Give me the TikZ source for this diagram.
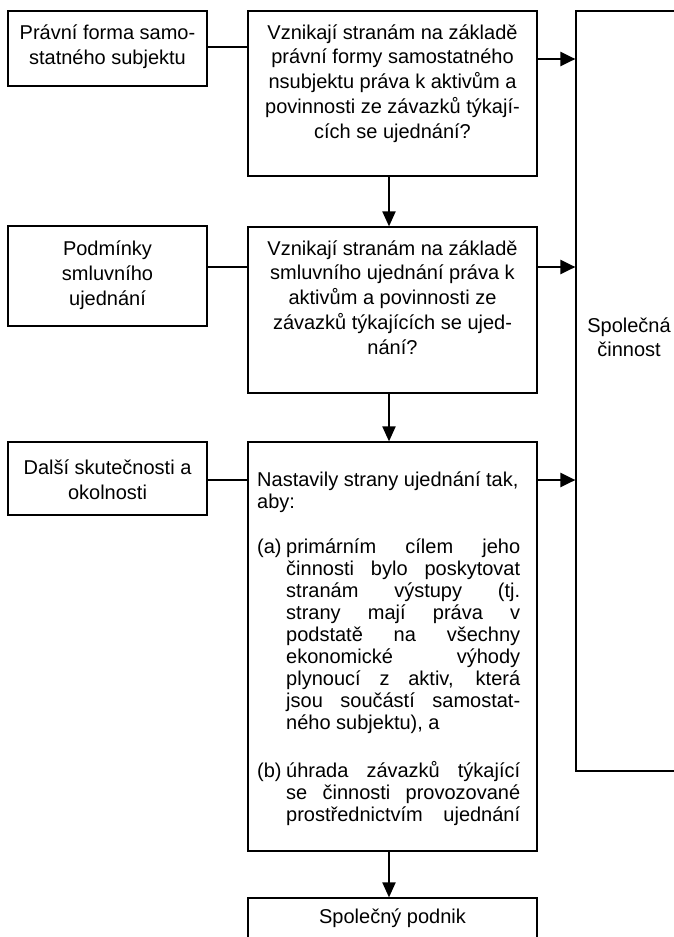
\documentclass[tikz,border=0pt]{standalone}
\usepackage{fontspec}
\setmainfont{Liberation Sans}
\usetikzlibrary{arrows.meta}
\begin{document}
\begin{tikzpicture}[x=1pt,y=-1pt,
  box/.style={draw=black, line width=1.2pt, rectangle, inner sep=0pt},
  txt/.style={inner sep=0pt, anchor=base},
  link/.style={draw=black, line width=1.2pt},
  harr/.style={draw=black, line width=2.4pt, -{Triangle[length=15pt,width=14pt]}},
  varr/.style={draw=black, line width=2pt, -{Triangle[length=15pt,width=13pt]}},
  bodyfont/.style={font=\fontsize{20}{25}\selectfont}
]
\useasboundingbox (0,0) rectangle (674,937);
\clip (0,0) rectangle (674,937);

% boxes
\node[box, minimum width=199pt, minimum height=75pt]  (a1) at (107.5,48.5) {};
\node[box, minimum width=199pt, minimum height=100pt] (a2) at (107.5,276) {};
\node[box, minimum width=199pt, minimum height=73pt]  (a3) at (107.5,478.5) {};
\node[box, minimum width=289pt, minimum height=165pt] (b1) at (392.5,93.5) {};
\node[box, minimum width=289pt, minimum height=166pt] (b2) at (392.5,310) {};
\node[box, minimum width=289pt, minimum height=409pt] (b3) at (392.5,646.5) {};
\node[box, minimum width=289pt, minimum height=60pt]  (b4) at (392.5,928) {};
\node[box, minimum width=106pt, minimum height=760pt] (c)  at (629,391) {};

% texts
\node[txt] (a1t) at (107.5,39) {\parbox[t]{196pt}{\centering\fontsize{20}{25}\selectfont
  Právní forma samo-\\statného subjektu}};
\node[txt] (a2t) at (107.5,255) {\parbox[t]{196pt}{\centering\fontsize{20}{25}\selectfont
  Podmínky\\smluvního\\ujednání}};
\node[txt] (a3t) at (107.5,474) {\parbox[t]{196pt}{\centering\fontsize{20}{25}\selectfont
  Další skutečnosti a\\okolnosti}};
\node[txt] (b1t) at (392.5,39) {\parbox[t]{284pt}{\centering\fontsize{20}{24.75}\selectfont
  Vznikají stranám na základě\\právní formy samostatného\\nsubjektu práva k aktivům a\\povinnosti ze závazků týkají-\\cích se ujednání?}};
\node[txt] (b2t) at (392.5,255) {\parbox[t]{284pt}{\centering\fontsize{20}{24.75}\selectfont
  Vznikají stranám na základě\\smluvního ujednání práva k\\aktivům a povinnosti ze\\závazků týkajících se ujed-\\nání?}};
\node[txt, anchor=base west] (b3t) at (257,486) {\parbox[t]{263pt}{\fontsize{20}{22}\selectfont
  Nastavily strany ujednání tak,\\
  aby:\\[23pt]
  \makebox[29pt][l]{(a)}\makebox[234pt][s]{primárním cílem jeho}\\
  \hspace*{29pt}\makebox[234pt][s]{činnosti bylo poskytovat}\\
  \hspace*{29pt}\makebox[234pt][s]{stranám výstupy (tj.}\\
  \hspace*{29pt}\makebox[234pt][s]{strany mají práva v}\\
  \hspace*{29pt}\makebox[234pt][s]{podstatě na všechny}\\
  \hspace*{29pt}\makebox[234pt][s]{ekonomické výhody}\\
  \hspace*{29pt}\makebox[234pt][s]{plynoucí z aktiv, která}\\
  \hspace*{29pt}\makebox[234pt][s]{jsou součástí samostat-}\\
  \hspace*{29pt}ného subjektu), a\\[26pt]
  \makebox[29pt][l]{(b)}\makebox[234pt][s]{úhrada závazků týkající}\\
  \hspace*{29pt}\makebox[234pt][s]{se činnosti provozované}\\
  \hspace*{29pt}\makebox[234pt][s]{prostřednictvím ujednání}}};
\node[txt] (b4t) at (392.5,923) {\fontsize{20}{24}\selectfont Společný podnik};
\node[txt] (ct) at (629,332) {\parbox[t]{100pt}{\centering\fontsize{20}{24}\selectfont
  Společná\\činnost}};

% plain links
\draw[link] ([yshift=1.5pt]a1.east) -- ([yshift=1.5pt]a1.east -| b1.west);
\draw[link] ([yshift=9pt]a2.east) -- ([yshift=9pt]a2.east -| b2.west);
\draw[link] ([yshift=-1.5pt]a3.east) -- ([yshift=-1.5pt]a3.east -| b3.west);

% horizontal arrows
\draw[harr] ([yshift=34.5pt]b1.east) -- ([yshift=34.5pt]b1.east -| c.west);
\draw[harr] ([yshift=43pt]b2.east) -- ([yshift=43pt]b2.east -| c.west);
\draw[harr] ([yshift=166.5pt]b3.east) -- ([yshift=166.5pt]b3.east -| c.west);

% vertical arrows
\draw[varr] ([xshift=-3.5pt]b1.south) -- ([xshift=-3.5pt]b2.north);
\draw[varr] ([xshift=-3.5pt]b2.south) -- ([xshift=-3.5pt]b3.north);
\draw[varr] ([xshift=-3.5pt]b3.south) -- ([xshift=-3.5pt]b4.north);
\end{tikzpicture}
\end{document}
